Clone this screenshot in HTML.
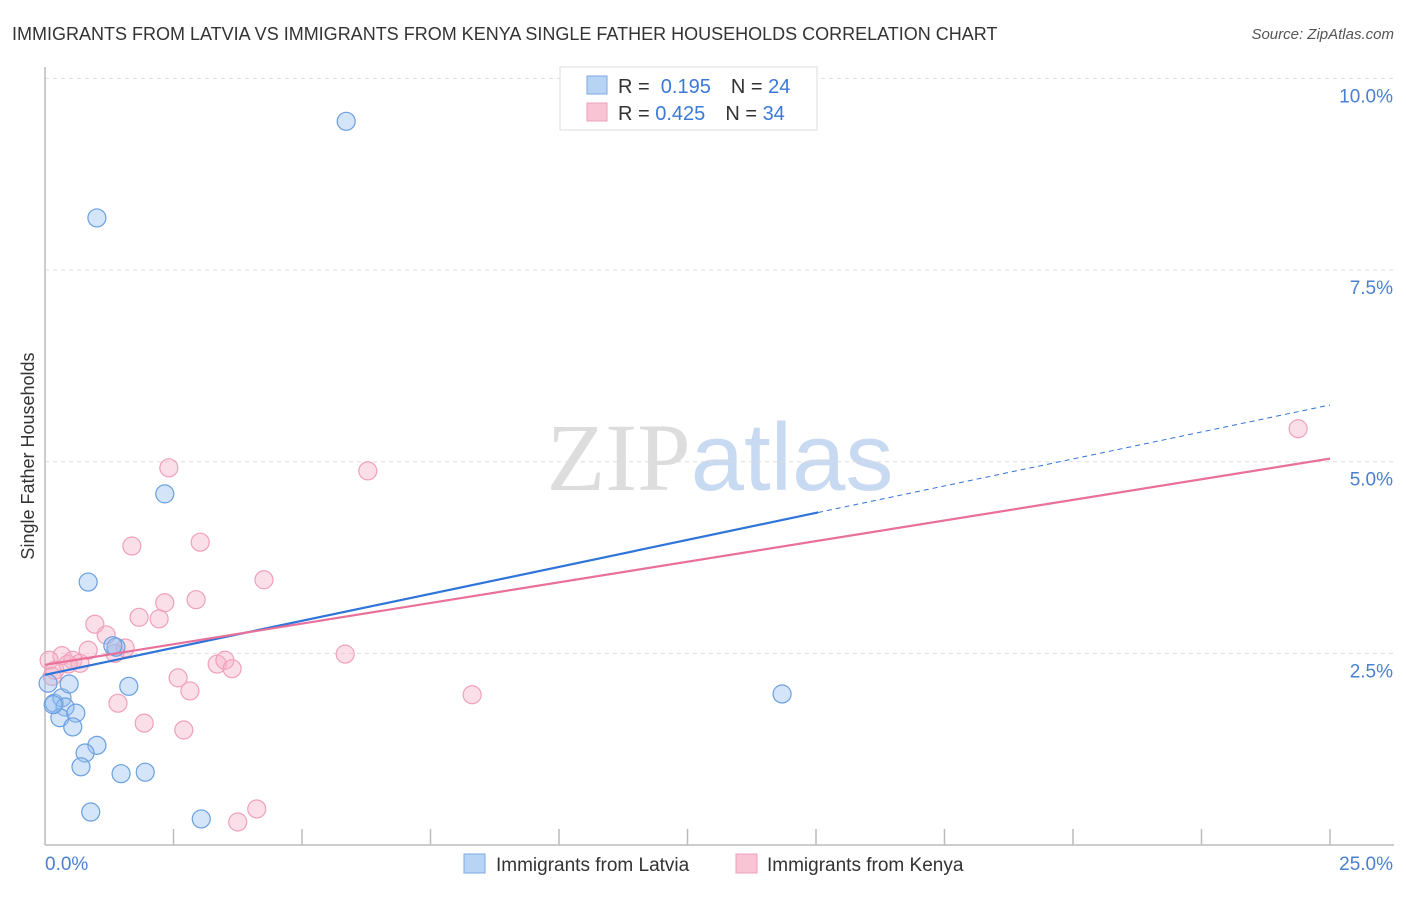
<!DOCTYPE html>
<html><head><meta charset="utf-8"><style>
body{margin:0;background:#fff;font-family:"Liberation Sans",sans-serif;}
svg text{font-family:"Liberation Sans",sans-serif;}
</style></head><body>
<svg id="chart" width="1406" height="892" xmlns="http://www.w3.org/2000/svg">
<text x="12" y="40" font-size="18" fill="#333">IMMIGRANTS FROM LATVIA VS IMMIGRANTS FROM KENYA SINGLE FATHER HOUSEHOLDS CORRELATION CHART</text>
<text x="1394" y="39" font-size="15" fill="#555" font-style="italic" text-anchor="end">Source: ZipAtlas.com</text>
<text x="720" y="490" font-size="96" text-anchor="middle"><tspan fill="#ddd" font-family="Liberation Serif">ZIP</tspan><tspan fill="#c8daf2">atlas</tspan></text>
<text transform="translate(34,456) rotate(-90)" font-size="18" fill="#333" text-anchor="middle">Single Father Households</text>
<g id="grid"></g><g id="axes"></g><g id="marks"></g>
<g>
<rect x="560" y="67" width="257" height="63" fill="#fff" stroke="#ddd"/>
<rect x="587" y="76" width="20" height="18" fill="#b8d4f5" stroke="#7aa8e0"/>
<text x="618" y="93" font-size="20" fill="#333">R = <tspan fill="#3b78d8">&#160;0.195</tspan><tspan dx="20">N = </tspan><tspan fill="#3b78d8">24</tspan></text>
<rect x="587" y="103" width="20" height="18" fill="#f9c4d4" stroke="#eea0b8"/>
<text x="618" y="120" font-size="20" fill="#333">R = <tspan fill="#3b78d8">0.425</tspan><tspan dx="20">N = </tspan><tspan fill="#3b78d8">34</tspan></text>
</g>
<g>
<rect x="464" y="854" width="21" height="19" fill="#b8d4f5" stroke="#7aa8e0"/>
<text x="496" y="871" font-size="19" fill="#333">Immigrants from Latvia</text>
<rect x="736" y="854" width="21" height="19" fill="#f9c4d4" stroke="#eea0b8"/>
<text x="767" y="871" font-size="19" fill="#333">Immigrants from Kenya</text>
</g>
</svg>
<script>
const latviaX=[5.86,1.01,2.33,0.84,1.38,1.63,0.06,0.18,0.33,0.47,0.39,0.29,0.60,0.54,1.01,0.78,0.70,1.48,1.95,0.89,3.04,14.34,0.16,1.32];
const latviaY=[9.44,8.18,4.58,3.43,2.58,2.07,2.11,1.85,1.92,2.10,1.80,1.66,1.72,1.54,1.30,1.20,1.02,0.93,0.95,0.43,0.34,1.97,1.83,2.60];
const kenyaX=[24.38,6.28,2.41,1.69,3.02,4.26,2.94,2.33,1.83,2.22,0.97,1.19,1.56,0.84,0.33,0.54,0.68,0.08,0.19,0.14,5.84,3.35,3.50,3.64,2.59,2.82,1.42,1.93,2.70,8.31,3.75,4.12,1.36,0.45];
const kenyaY=[5.43,4.88,4.92,3.90,3.95,3.46,3.20,3.16,2.97,2.95,2.88,2.74,2.57,2.54,2.47,2.41,2.37,2.41,2.28,2.20,2.49,2.36,2.41,2.30,2.18,2.01,1.85,1.59,1.50,1.96,0.30,0.47,2.50,2.36];
const latviaTrend=[2.22,5.74];
const kenyaTrend=[2.35,5.04];
const yTicks=[2.5,5,7.5,10];
const yTickLabels=["2.5%","5.0%","7.5%","10.0%"];
const NS="http://www.w3.org/2000/svg";
const xs=v=>45+v/25*1285, ys=v=>845-v/10*766.6;
function mk(tag,attrs,parent){const e=document.createElementNS(NS,tag);for(const k in attrs)e.setAttribute(k,attrs[k]);document.getElementById(parent).appendChild(e);return e;}
yTicks.forEach((t,i)=>{
 const g=mk('line',{x1:45,x2:1394,y1:ys(t),y2:ys(t),stroke:'#ddd','stroke-dasharray':'4,4'},'grid');
 
 
 const l=mk('text',{x:1393,y:ys(t)+24,'font-size':19,fill:'#4a80d0','text-anchor':'end'},'grid');
 l.textContent=yTickLabels[i];
 
 
});
const ax=mk('line',{x1:45,x2:45,y1:67,y2:845,stroke:'#bbb','stroke-width':1.5},'axes');


const bx=mk('line',{x1:45,x2:1394,y1:845,y2:845,stroke:'#bbb','stroke-width':1.5},'axes');


for(let i=1;i<=10;i++){const t=mk('line',{x1:xs(i*2.5),x2:xs(i*2.5),y1:829,y2:845,stroke:'#bbb','stroke-width':1.5},'axes');
 
 }
const x0=mk('text',{x:45,y:870,'font-size':19,fill:'#4a80d0'},'axes');x0.textContent='0.0%';


const x1=mk('text',{x:1393,y:870,'font-size':19,fill:'#4a80d0','text-anchor':'end'},'axes');x1.textContent='25.0%';


kenyaX.forEach((v,i)=>{const c=mk('circle',{cx:xs(v),cy:ys(kenyaY[i]),r:9,fill:'rgba(246,176,198,0.4)',stroke:'#f0a0ba','stroke-width':1.2},'marks');
 
 });
latviaX.forEach((v,i)=>{const c=mk('circle',{cx:xs(v),cy:ys(latviaY[i]),r:9,fill:'rgba(150,190,240,0.4)',stroke:'#6a9fe0','stroke-width':1.2},'marks');
 
 });
const lt=v=>latviaTrend[0]+(latviaTrend[1]-latviaTrend[0])*v/25;
const b1=mk('line',{x1:xs(0),y1:ys(lt(0)),x2:xs(15.04),y2:ys(lt(15.04)),stroke:'#2f74d8','stroke-width':2.2},'marks');


const b2=mk('line',{x1:xs(15.04),y1:ys(lt(15.04)),x2:xs(25),y2:ys(lt(25)),stroke:'#2f74d8','stroke-width':1,'stroke-dasharray':'5,4'},'marks');


const p1=mk('line',{x1:xs(0),y1:ys(kenyaTrend[0]),x2:xs(25),y2:ys(kenyaTrend[1]),stroke:'#e8709a','stroke-width':2.2},'marks');


</script>
</body></html>
